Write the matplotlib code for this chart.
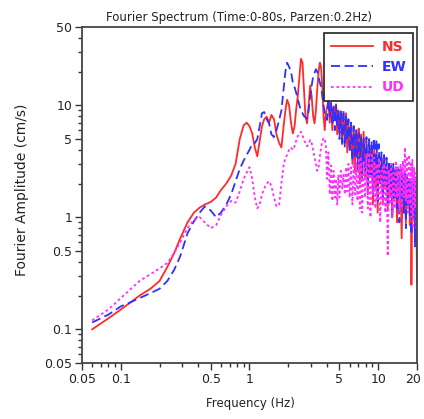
import matplotlib
matplotlib.use("Agg")
import matplotlib.pyplot as plt
import matplotlib.transforms as mtransforms
from matplotlib.ticker import FixedLocator, NullFormatter

plt.rcParams['font.family'] = ['DejaVu Sans']

# shared frequency grid (Hz): smooth part, then the noisy high-frequency part
freq_low = [0.06, 0.08, 0.1, 0.12, 0.14, 0.17, 0.2, 0.23, 0.26, 0.29,
            0.33, 0.37, 0.41, 0.45, 0.5, 0.55, 0.6, 0.66, 0.72, 0.78,
            0.84, 0.9, 0.95, 1.0, 1.05, 1.1, 1.15, 1.2, 1.25, 1.3,
            1.36, 1.42, 1.48, 1.55, 1.62, 1.7, 1.77, 1.84, 1.9, 1.96,
            2.03, 2.1, 2.17, 2.24, 2.3, 2.37, 2.44, 2.51, 2.58, 2.65,
            2.72, 2.8, 2.88, 2.96, 3.04, 3.12, 3.2, 3.28, 3.36, 3.44,
            3.52, 3.6, 3.68, 3.76, 3.84, 3.92]
freq_high = [4.0, 4.1, 4.2, 4.3, 4.4, 4.5, 4.6, 4.7, 4.8, 4.9,
             5.0, 5.12, 5.25, 5.37, 5.5, 5.62, 5.75, 5.87,
             6.0, 6.15, 6.3, 6.45, 6.6, 6.75, 6.9, 7.05, 7.2, 7.35,
             7.5, 7.7, 7.9, 8.1, 8.3, 8.5, 8.7, 8.9, 9.1, 9.3,
             9.5, 9.7, 9.9, 10.1, 10.35, 10.6, 10.85, 11.1, 11.35, 11.6,
             11.85, 12.1, 12.35, 12.6, 12.85, 13.1, 13.4, 13.7, 14.0, 14.3,
             14.6, 14.9, 15.2, 15.5, 15.8, 16.1, 16.4, 16.7, 17.0, 17.3,
             17.6, 17.9, 18.1, 18.4, 18.7, 19.0, 19.3, 19.6, 19.8, 20.0]

ns_low = [0.10, 0.125, 0.15, 0.175, 0.2, 0.23, 0.27, 0.36, 0.48, 0.65,
          0.9, 1.1, 1.22, 1.3, 1.37, 1.5, 1.75, 2.0, 2.35, 3.0,
          5.0, 6.6, 7.0, 6.5, 5.6, 4.2, 3.5, 4.8, 6.5, 7.5,
          7.9, 7.0, 8.2, 7.5, 5.5, 4.6, 4.2, 6.5, 9.0, 11.2,
          10.0, 7.0, 5.6, 6.5, 9.0, 12.0, 18.0, 26.0, 24.0, 14.0,
          8.0, 6.9, 10.0, 15.0, 12.0, 8.0, 6.9, 9.0, 14.0, 20.0,
          24.0, 22.0, 14.0, 8.0, 6.0, 8.5]
ns_high = [9.5, 11.0, 7.0, 10.5, 6.0, 9.8, 7.5, 10.2, 5.5, 9.0,
           6.0, 8.8, 4.5, 7.8, 5.2, 8.5, 3.8, 7.0,
           4.2, 6.8, 3.0, 6.5, 2.5, 5.8, 3.6, 6.2, 2.0, 5.5,
           2.8, 5.8, 2.2, 4.8, 1.6, 4.5, 2.5, 4.2, 1.3, 4.0,
           1.8, 3.8, 1.1, 3.6, 2.0, 3.3, 1.3, 3.4, 1.8, 3.0,
           1.2, 2.9, 1.6, 2.8, 1.0, 2.7, 1.5, 2.5, 0.9, 2.6,
           1.3, 2.4, 0.65, 2.2, 1.1, 2.6, 0.9, 2.3, 1.4, 2.2,
           0.85, 2.0, 0.25, 1.9, 1.0, 2.1, 0.6, 1.8, 0.9, 0.26]

ew_low = [0.115, 0.135, 0.16, 0.175, 0.19, 0.21, 0.23, 0.27, 0.34, 0.45,
          0.72, 0.92, 1.1, 1.25, 1.15, 1.0, 1.1, 1.3, 1.6, 2.1,
          2.7, 3.2, 3.6, 4.0, 4.5, 4.6, 5.0, 6.5, 8.5, 8.7,
          7.5, 6.9, 5.5, 5.2, 6.0, 7.4, 9.0, 14.0, 20.0, 24.0,
          22.0, 20.0, 16.0, 14.5, 13.0, 11.5, 10.0, 9.0, 8.5, 8.0,
          7.8, 7.6, 9.0, 12.0, 15.0, 18.0, 19.5, 21.0, 20.0, 18.0,
          16.0, 14.5, 12.0, 10.0, 8.5, 7.8]
ew_high = [7.4, 11.5, 8.0, 10.5, 7.0, 9.6, 6.0, 10.0, 6.5, 9.1,
           5.0, 8.8, 4.6, 9.1, 4.2, 8.0, 4.8, 7.5,
           3.8, 7.0, 3.2, 6.5, 3.5, 6.0, 2.6, 5.6, 3.0, 5.2,
           2.2, 5.0, 2.6, 5.2, 1.9, 5.0, 2.4, 4.8, 1.6, 5.1,
           2.2, 4.9, 1.4, 4.5, 2.0, 3.8, 1.5, 3.6, 2.0, 3.4,
           1.3, 3.2, 1.8, 3.0, 1.0, 3.0, 1.5, 2.8, 1.2, 2.7,
           0.9, 2.7, 1.4, 2.5, 1.1, 2.4, 0.8, 2.3, 1.3, 2.2,
           1.0, 2.2, 0.7, 2.0, 1.2, 2.2, 0.55, 2.1, 0.8, 0.6]

ud_low = [0.12, 0.15, 0.19, 0.23, 0.27, 0.31, 0.35, 0.39, 0.48, 0.6,
          0.8, 0.95, 1.0, 0.9, 0.8, 0.85, 1.05, 1.25, 1.4, 1.35,
          1.7, 2.2, 2.5, 2.8, 2.2, 1.5, 1.2, 1.3, 1.6, 1.8,
          2.0, 2.1, 1.9, 1.5, 1.25, 1.3, 2.0, 2.9, 3.4, 3.6,
          4.0, 4.2, 4.0, 4.3, 4.8, 5.3, 5.6, 5.8, 5.4, 4.9,
          4.6, 4.3, 4.5, 4.9, 4.6, 4.0, 3.4, 3.0, 2.6, 2.8,
          3.5, 4.2, 4.8, 5.1, 5.0, 4.4]
ud_high = [2.2, 3.8, 1.6, 2.9, 1.4, 2.6, 1.5, 2.2, 1.3, 2.4,
           1.5, 2.6, 1.8, 2.4, 1.6, 2.8, 1.7, 3.0,
           1.5, 2.8, 1.3, 3.2, 1.6, 3.0, 1.4, 3.4, 1.2, 3.5,
           1.1, 3.2, 1.5, 3.6, 1.2, 3.8, 1.0, 3.6, 1.6, 3.4,
           1.2, 3.0, 1.4, 3.4, 0.9, 2.6, 1.3, 3.0, 1.1, 2.8,
           0.45, 2.6, 1.3, 3.0, 1.0, 2.5, 1.2, 3.2, 1.5, 2.8,
           1.1, 3.0, 1.2, 3.2, 1.5, 4.2, 1.4, 3.5, 1.1, 3.6,
           1.3, 3.0, 1.0, 3.3, 0.8, 2.8, 1.2, 2.5, 0.9, 0.6]

x_ticks = [0.05, 0.1, 0.5, 1, 5, 10, 20]
x_labels = ["0.05", "0.1", "0.5", "1", "5", "10", "20"]
y_ticks = [0.05, 0.1, 0.5, 1, 5, 10, 50]
y_labels = ["0.05", "0.1", "0.5", "1", "5", "10", "50"]
minor_x = [0.06, 0.07, 0.08, 0.09, 0.2, 0.3, 0.4, 0.6, 0.7, 0.8, 0.9, 2, 3, 4, 6, 7, 8, 9]
minor_y = minor_x + [20, 30, 40]

freq = freq_low + freq_high
ns = ns_low + ns_high
ew = ew_low + ew_high
ud = ud_low + ud_high

txt = "#222222"

fig = plt.figure(figsize=(4.24, 4.19), dpi=100)
ax = fig.add_axes([82 / 424, 1 - 363 / 419, 335 / 424, 336 / 419])

ax.plot(freq, ns, color="#ff2a2a", lw=1.3, label="NS")
ax.plot(freq, ew, color="#3030ff", lw=1.3, ls=(0, (5, 2.5)), label="EW")
ax.plot(freq, ud, color="#ff30ff", lw=1.3, ls=(0, (1.5, 1.5)), label="UD")

ax.set_xscale("log")
ax.set_yscale("log")
ax.set_xlim(0.05, 20)
ax.set_ylim(0.05, 50)

ax.xaxis.set_major_locator(FixedLocator(x_ticks))
ax.set_xticklabels(x_labels)
ax.yaxis.set_major_locator(FixedLocator(y_ticks))
ax.set_yticklabels(y_labels)
ax.xaxis.set_minor_locator(FixedLocator(minor_x))
ax.yaxis.set_minor_locator(FixedLocator(minor_y))
ax.xaxis.set_minor_formatter(NullFormatter())
ax.yaxis.set_minor_formatter(NullFormatter())

ax.tick_params(which="major", direction="out", length=5, width=1, colors="#333333",
               labelsize=9, labelcolor=txt, pad=2)
ax.tick_params(which="minor", direction="out", length=3, width=1, colors="#333333")
for s in ax.spines.values():
    s.set_color("#444444")
    s.set_linewidth(1.3)

# nudge the "20" label so it stays inside the picture
last = ax.get_xticklabels()[-1]
last.set_transform(last.get_transform() + mtransforms.ScaledTranslation(-4 / 100, 0, fig.dpi_scale_trans))

fig.text(239 / 424, 1 - 17 / 419, "Fourier Spectrum (Time:0-80s, Parzen:0.2Hz)",
         ha="center", va="center", fontsize=8.5, color=txt)
fig.text(250 / 424, 1 - 403 / 419, "Frequency (Hz)", ha="center", va="center",
         fontsize=8.5, color=txt)
fig.text(22 / 424, 1 - 190 / 419, "Fourier Amplitude (cm/s)", ha="center", va="center",
         rotation=90, fontsize=10, color=txt)

leg = ax.legend(loc="upper right", bbox_to_anchor=(413 / 424, 1 - 33 / 419),
                bbox_transform=fig.transFigure, fancybox=False, framealpha=1,
                edgecolor="#222222", labelcolor="linecolor", fontsize=10,
                handlelength=3.0, handletextpad=0.6, borderpad=0.5, labelspacing=0.45,
                borderaxespad=0)
leg.get_frame().set_linewidth(1.2)
for t in leg.get_texts():
    t.set_fontweight("bold")

fig.savefig("out.png", dpi=100)
